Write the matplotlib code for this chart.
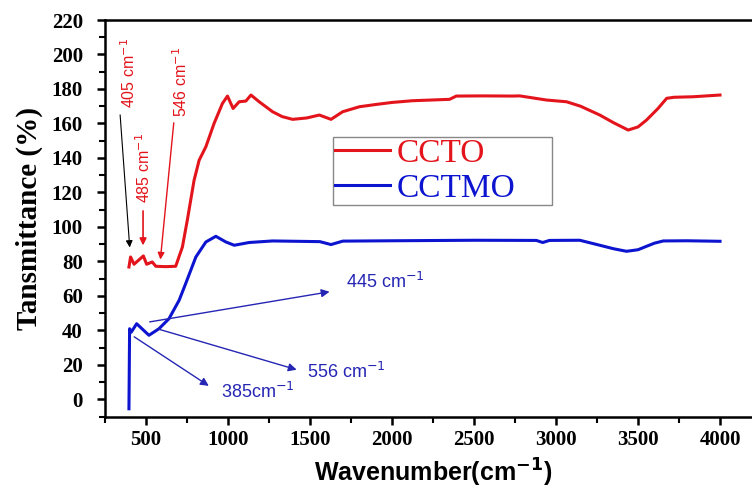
import matplotlib
matplotlib.use("Agg")
import matplotlib.pyplot as plt
from matplotlib.ticker import MultipleLocator

# CCTO (red) spectrum
ccto_x = [396, 406, 427, 484, 504, 538, 560, 620, 681, 722, 752, 793, 824, 865, 915, 966, 997,
          1031, 1068, 1109, 1140, 1190, 1272, 1330, 1394, 1480, 1557, 1628, 1699, 1801, 1900,
          2000, 2125, 2351, 2392, 2550, 2736, 2779, 2942, 3064, 3150, 3267, 3350, 3440, 3500,
          3552, 3620, 3675, 3720, 3837, 4000]
ccto_y = [76.8, 82.6, 78.4, 83.2, 78.4, 79.7, 77.2, 77.0, 77.2, 88.4, 104, 127, 138.7, 146.5, 160,
          171.6, 175.9, 168.7, 172.6, 173, 176.5, 172.6, 166.8, 164.0, 162.4, 163.2, 164.9, 162.4,
          166.8, 169.7, 171.0, 172.2, 173.2, 174, 175.9, 176.0, 175.9, 176, 173.6, 172.6, 170.0,
          164.9, 160.5, 156.2, 158.0, 162, 168.5, 174.6, 175.2, 175.5, 176.5]

# CCTMO (blue) spectrum
cctmo_x = [396, 400, 410, 443, 518, 579, 640, 702, 742, 804, 865, 926, 987, 1038, 1129, 1272,
           1560, 1628, 1700, 2000, 2500, 2880, 2919, 2960, 3145, 3267, 3350, 3430, 3500, 3552,
           3600, 3654, 3800, 4000]
cctmo_y = [-5.4, 41, 39, 43.9, 37.2, 41, 46.8, 57.5, 67.2, 82.6, 91.3, 94.6, 91.3, 89.4, 91, 91.9,
           91.5, 89.8, 91.8, 92.0, 92.3, 92.2, 91, 92.2, 92.3, 89.4, 87.4, 85.9, 86.8, 88.8,
           90.6, 91.9, 92, 91.7]

series_labels = ["CCTO", "CCTMO"]
x_ticks = [500, 1000, 1500, 2000, 2500, 3000, 3500, 4000]
y_ticks = [0, 20, 40, 60, 80, 100, 120, 140, 160, 180, 200, 220]

RED = "#e3141b"
BLUE = "#0c14cf"
BLUE_TXT = "#2626b4"

fig = plt.figure(figsize=(7.52, 4.91), dpi=100)
fig.patch.set_facecolor("white")
ax = fig.add_axes([105 / 752, 74.3 / 491, 656 / 752, 396.7 / 491])

l1, = ax.plot(ccto_x, ccto_y, color=RED, lw=2.2, label=series_labels[0])
l2, = ax.plot(cctmo_x, cctmo_y, color=BLUE, lw=2.2, label=series_labels[1])

ax.set_xlim(250, 4250)
ax.set_ylim(-10, 220)
ax.set_xticks(x_ticks)
ax.set_yticks(y_ticks)
ax.xaxis.set_minor_locator(MultipleLocator(250))
ax.yaxis.set_minor_locator(MultipleLocator(10))

for s in ["left", "bottom", "top"]:
    ax.spines[s].set_linewidth(1.8)
ax.spines["right"].set_visible(False)
ax.tick_params(which="major", direction="out", length=6, width=1.8, top=False, right=False)
ax.tick_params(axis="y", which="major", pad=10)
ax.tick_params(which="minor", direction="out", length=4, width=1.5, top=False, right=False)

serif_bold = dict(family="Liberation Serif", weight="bold")
for lab in ax.get_xticklabels() + ax.get_yticklabels():
    lab.set_fontfamily("Liberation Serif")
    lab.set_fontweight("bold")
    lab.set_fontsize(15)

ax.set_ylabel("Tansmittance (%)", fontsize=21, labelpad=6, **serif_bold)
ax.set_xlabel("Wavenumber(cm$^{\\mathbf{-1}}$)", fontsize=18, family="Liberation Sans",
              weight="bold", labelpad=5)

leg = ax.legend(handles=[l1, l2], loc="upper left",
                bbox_to_anchor=(0.3476, 0.5, 0.3338, 0.2051), mode="expand",
                frameon=True, fancybox=False, edgecolor="#888888", framealpha=1,
                prop=dict(family="Liberation Serif", size=24), handlelength=1.65,
                handletextpad=0.2, borderpad=0.05, labelspacing=0.12, borderaxespad=0)
leg.get_frame().set_linewidth(1.0)
for txt, c in zip(leg.get_texts(), [RED, BLUE]):
    txt.set_color(c)

ann_font = dict(family="Liberation Sans", size=13)
rot_font = dict(family="Liberation Sans", size=11.5)

# red/black annotations
ax.text(396, 189.5, "405 cm$^{-1}$", rotation=90, color=RED, ha="center", va="center", **rot_font)
ax.text(486, 134, "485 cm$^{-1}$", rotation=90, color=RED, ha="center", va="center", **rot_font)
ax.text(714, 184, "546 cm$^{-1}$", rotation=90, color=RED, ha="center", va="center", **rot_font)
ax.annotate("", xy=(402, 86.5), xytext=(341, 166.6),
            arrowprops=dict(arrowstyle="-|>", color="black", lw=0.8, mutation_scale=10))
ax.annotate("", xy=(482, 87.7), xytext=(482, 110.9),
            arrowprops=dict(arrowstyle="-|>", color=RED, lw=1.2, mutation_scale=10))
ax.annotate("", xy=(586, 79.5), xytext=(671, 162),
            arrowprops=dict(arrowstyle="-|>", color=RED, lw=1.0, mutation_scale=10))

# blue annotations
ax.text(1722, 67.9, "445 cm$^{-1}$", color=BLUE_TXT, ha="left", va="center", **ann_font)
ax.text(1483, 15.9, "556 cm$^{-1}$", color=BLUE_TXT, ha="left", va="center", **ann_font)
ax.text(958, 4.2, "385cm$^{-1}$", color=BLUE_TXT, ha="left", va="center", **ann_font)
ax.annotate("", xy=(1636, 62.7), xytext=(506, 44.7),
            arrowprops=dict(arrowstyle="-|>", color=BLUE_TXT, lw=1.0, mutation_scale=12))
ax.annotate("", xy=(1435, 16.8), xytext=(561, 41.2),
            arrowprops=dict(arrowstyle="-|>", color=BLUE_TXT, lw=1.0, mutation_scale=12))
ax.annotate("", xy=(897, 7), xytext=(414, 37.2),
            arrowprops=dict(arrowstyle="-|>", color=BLUE_TXT, lw=1.0, mutation_scale=12))

fig.savefig("out.png", dpi=100)
